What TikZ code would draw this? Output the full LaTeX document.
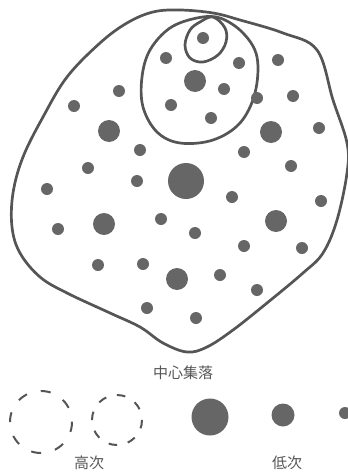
\documentclass[tikz,border=0pt]{standalone}
\usepackage{fontspec}
\newfontfamily\cjk{Noto Sans CJK JP}
\usetikzlibrary{positioning}
\definecolor{ink}{HTML}{555555}
\definecolor{dotgray}{HTML}{666666}
\begin{document}
\begin{tikzpicture}[x=1pt,y=-1pt,line width=2.7pt,line join=round,
  small node/.style={circle,fill=dotgray,minimum size=12pt,inner sep=0pt},
  mid node/.style={circle,fill=dotgray,minimum size=22pt,inner sep=0pt},
  big node/.style={circle,fill=dotgray,minimum size=36pt,inner sep=0pt},
  label node/.style={font=\cjk\fontsize{15pt}{17pt}\selectfont,text=ink,inner sep=0pt}]
\useasboundingbox (0,0) rectangle (348,474);
% region outlines
\draw[ink] plot[smooth cycle,tension=0.6] coordinates {(153,12) (127,23) (100,43) (67,77) (43,117) (23,157) (13,193) (12,227) (20,253) (40,277) (67,293) (110,313) (140,327) (163,343) (187,352) (207,347) (233,330) (267,303) (303,273) (323,253) (337,220) (347,173) (347,143) (333,100) (317,50) (283,33) (240,20) (213,13) (180,10)};
\draw[ink] plot[smooth cycle,tension=0.6] coordinates {(197,18) (170,28) (150,50) (142,77) (143,107) (157,132) (180,143) (213,140) (240,123) (255,93) (257,57) (243,33) (220,18)};
\draw[ink] plot[smooth cycle,tension=0.6] coordinates {(213,17) (225,28) (226,42) (218,55) (203,62) (190,58) (185,45) (190,30) (200,22)};
% settlements
\begin{scope}
\node[small node] (s1) at (203,38) {};
\node[small node] (s2) at (166,58) {};
\node[small node] (s3) at (239,63) {};
\node[small node] (s4) at (278,60) {};
\node[small node] (s5) at (224,89) {};
\node[small node] (s6) at (119,91) {};
\node[small node] (s7) at (257,98) {};
\node[small node] (s8) at (293,96) {};
\node[small node] (s9) at (74,106) {};
\node[small node] (s10) at (171,105) {};
\node[small node] (s11) at (211,118) {};
\node[small node] (s12) at (319,128) {};
\node[small node] (s13) at (140,150) {};
\node[small node] (s14) at (244,152) {};
\node[small node] (s15) at (88,168) {};
\node[small node] (s16) at (291,166) {};
\node[small node] (s17) at (137,181) {};
\node[small node] (s18) at (47,189) {};
\node[small node] (s19) at (232,197) {};
\node[small node] (s20) at (321,201) {};
\node[small node] (s21) at (161,219) {};
\node[small node] (s22) at (58,229) {};
\node[small node] (s23) at (195,233) {};
\node[small node] (s24) at (244,246) {};
\node[small node] (s25) at (302,248) {};
\node[small node] (s26) at (98,265) {};
\node[small node] (s27) at (143,264) {};
\node[small node] (s28) at (220,275) {};
\node[small node] (s29) at (257,290) {};
\node[small node] (s30) at (147,308) {};
\node[small node] (s31) at (196,318) {};
\node[mid node] (m1) at (195,81) {};
\node[mid node] (m2) at (109,131) {};
\node[mid node] (m3) at (271,132) {};
\node[mid node] (m4) at (104,224) {};
\node[mid node] (m5) at (276,221) {};
\node[mid node] (m6) at (177,279) {};
\node[big node] (b1) at (186,181) {};
\end{scope}
% legend
\node[label node] (centre) at (183,373) {中心集落};
\draw[ink,line width=2pt,dash pattern=on 10pt off 14.3pt] (41,422) circle (31);
\draw[ink,line width=2pt,dash pattern=on 8.5pt off 11.1pt] (117,420) circle (25);
\node[big node,minimum size=37pt] (lb) at (210,417) {};
\node[mid node,minimum size=23pt] (lm) at (283,415) {};
\node[small node] (ls) at (345,413) {};
\node[label node] (high) at (89,463) {高次};
\node[label node] (low) at (287,463) {低次};
\end{tikzpicture}
\end{document}
